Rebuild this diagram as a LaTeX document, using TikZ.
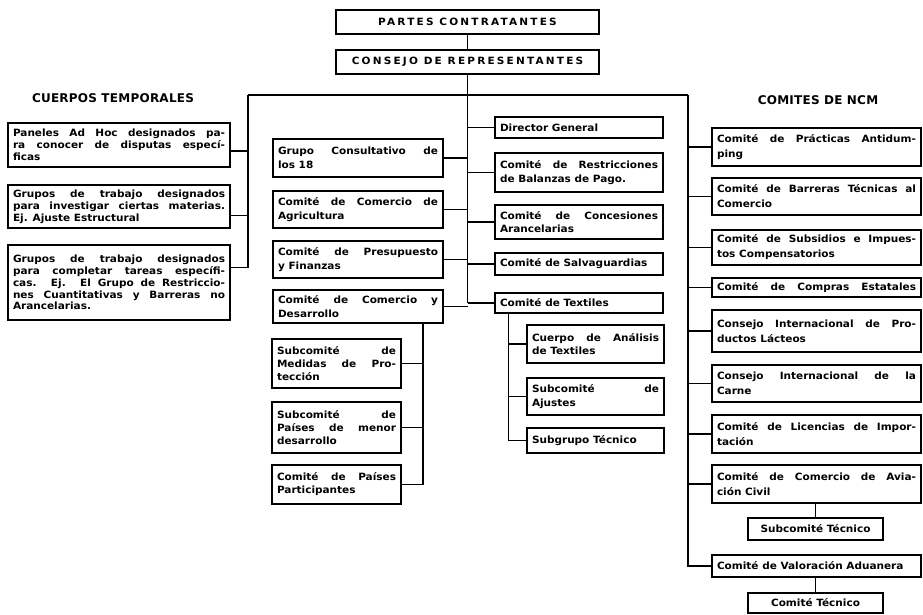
\documentclass[tikz,border=0pt]{standalone}
\usepackage{fontspec}
\setmainfont{DejaVu Sans}
\newcommand{\boxfont}[1][11.8]{\fontsize{10}{#1}\selectfont\bfseries\addfontfeature{FakeStretch=1.05}}
\newcommand{\capfont}{\fontsize{10}{11}\selectfont\bfseries\addfontfeature{LetterSpace=22,FakeStretch=1.05}}
\newcommand{\headfont}{\fontsize{12}{14}\selectfont\bfseries\addfontfeature{LetterSpace=2}}
\begin{document}
\begin{tikzpicture}[x=1pt,y=-1pt,
  box/.style={draw,line width=1.5pt,inner xsep=5pt,inner ysep=1pt,align=justify,font=\boxfont},
  topbox/.style={box,minimum width=263pt,minimum height=24pt,align=center,font=\capfont},
  leftbox/.style={box,text width=212pt},
  midlbox/.style={box,text width=160pt,font=\boxfont[13.5]},
  midrbox/.style={box,text width=158pt,font=\boxfont[13.5]},
  desbox/.style={box,text width=119pt,font=\boxfont[13]},
  texbox/.style={box,text width=127pt,font=\boxfont[13.5]},
  ncmbox/.style={box,text width=199pt,font=\boxfont[15]},
  subbox/.style={box,minimum width=135pt,align=center},
  head/.style={font=\headfont},
  link/.style={line width=1.5pt}]
\useasboundingbox (0,0) rectangle (923,615);

% top
\node[topbox] (partes) at (467.5,22) {PARTES CONTRATANTES};
\node[topbox] (cons) at (467.5,62) {CONSEJO DE REPRESENTANTES};
\coordinate (busL) at (248,95);
\coordinate (busR) at (688,95);

\node[head] (cuerpos) at (113,98) {CUERPOS TEMPORALES};
\node[head] (ncm) at (818,100) {COMITES DE NCM};

% cuerpos temporales
\node[leftbox,minimum height=44pt] (tmp1) at (119,145) {Paneles Ad Hoc designados pa-\linebreak ra conocer de disputas especí-\linebreak ficas};
\node[leftbox,minimum height=43pt] (tmp2) at (119,206.5) {Grupos de trabajo designados\linebreak para investigar ciertas materias.\linebreak Ej. Ajuste Estructural};
\node[leftbox,minimum height=75pt] (tmp3) at (119,282.5) {Grupos de trabajo designados\linebreak para completar tareas específi-\linebreak cas. Ej. El Grupo de Restriccio-\linebreak nes Cuantitativas y Barreras no\linebreak Arancelarias.};

% centro izquierda
\node[midlbox,minimum height=38pt] (g18) at (358,158) {Grupo Consultativo de\linebreak los 18};
\node[midlbox,minimum height=37pt] (agr) at (358,209.5) {Comité de Comercio de\linebreak Agricultura};
\node[midlbox,minimum height=37pt] (pre) at (358,259.5) {Comité de Presupuesto\linebreak y Finanzas};
\node[midlbox,minimum height=33pt] (des) at (358,306.5) {Comité de Comercio y\linebreak Desarrollo};
\node[desbox,minimum height=49pt] (med) at (336.5,363.5) {Subcomité de\linebreak Medidas de Pro-\linebreak tección};
\node[desbox,minimum height=51pt] (pme) at (336.5,427.5) {Subcomité de\linebreak Países de menor\linebreak desarrollo};
\node[desbox,minimum height=39pt] (ppa) at (336.5,484.5) {Comité de Países\linebreak Participantes};

% centro derecha
\node[midrbox,minimum height=21pt] (dir) at (579,127.5) {Director General};
\node[midrbox,minimum height=39pt] (bal) at (579,172.5) {Comité de Restricciones\linebreak de Balanzas de Pago.};
\node[midrbox,minimum height=34pt] (ara) at (579,222) {Comité de Concesiones\linebreak Arancelarias};
\node[midrbox,minimum height=22pt] (sal) at (579,264) {Comité de Salvaguardias};
\node[midrbox,minimum height=20pt] (tex) at (579,303) {Comité de Textiles};
\node[texbox,minimum height=38pt] (cat) at (595.5,344) {Cuerpo de Análisis\linebreak de Textiles};
\node[texbox,minimum height=37pt] (aju) at (595.5,396.5) {Subcomité de\linebreak Ajustes};
\node[texbox,minimum height=25pt] (sgt) at (595.5,440.5) {Subgrupo Técnico};

% comites de NCM
\node[ncmbox,minimum height=38pt] (adp) at (816.5,147) {Comité de Prácticas Antidum-\linebreak ping};
\node[ncmbox,minimum height=37pt] (btc) at (816.5,196.5) {Comité de Barreras Técnicas al\linebreak Comercio};
\node[ncmbox,minimum height=35pt] (sub) at (816.5,247.5) {Comité de Subsidios e Impues-\linebreak tos Compensatorios};
\node[ncmbox,minimum height=19pt] (cem) at (816.5,287.5) {Comité\hfill de\hfill Compras\hfill Estatales};
\node[ncmbox,minimum height=42pt] (lac) at (816.5,331) {Consejo Internacional de Pro-\linebreak ductos Lácteos};
\node[ncmbox,minimum height=37pt] (car) at (816.5,383.5) {Consejo Internacional de la\linebreak Carne};
\node[ncmbox,minimum height=38pt] (lic) at (816.5,434) {Comité de Licencias de Impor-\linebreak tación};
\node[ncmbox,minimum height=38pt] (avi) at (816.5,484) {Comité de Comercio de Avia-\linebreak ción Civil};
\node[subbox,minimum height=22pt] (st1) at (815.5,529) {Subcomité Técnico};
\node[ncmbox,minimum height=22pt] (val) at (816.5,566) {Comité de Valoración Aduanera};
\node[subbox,minimum height=20pt] (ct) at (815.5,603) {Comité Técnico};

% conectores
\draw[link] (partes) -- (cons);
\draw[link] (busL) -- (busR);
\draw[link] (cons.south) -- (cons.south |- tex.west);
\foreach \n in {g18,agr,pre,des}
  \draw[link] (\n.east) -- (\n.east -| cons.south);
\foreach \n in {dir,bal,ara,sal,tex}
  \draw[link] (\n.west) -- (\n.west -| cons.south);

\draw[link] (busL) |- ([yshift=15pt]tmp3.east);
\draw[link] ([yshift=-6pt]tmp1.east) -- ([yshift=-6pt]tmp1.east -| busL);
\draw[link] ([yshift=-9pt]tmp2.east) -- ([yshift=-9pt]tmp2.east -| busL);

\draw[link] (busR) |- (val.west);
\foreach \n in {adp,btc,sub,cem,lac,car,lic,avi}
  \draw[link] (\n.west) -- (\n.west -| busR);
\draw[link] (avi.south -| st1.north) -- (st1.north);
\draw[link] (val.south -| ct.north) -- (ct.north);

\coordinate (texbus) at ([xshift=14pt]tex.south west);
\draw[link] (texbus) |- (sgt.west);
\foreach \n in {cat,aju}
  \draw[link] (\n.west) -- (\n.west -| texbus);

\coordinate (desbus) at ([xshift=-21pt]des.south east);
\draw[link] (desbus) |- (ppa.east);
\foreach \n in {med,pme}
  \draw[link] (\n.east) -- (\n.east -| desbus);
\end{tikzpicture}
\end{document}
